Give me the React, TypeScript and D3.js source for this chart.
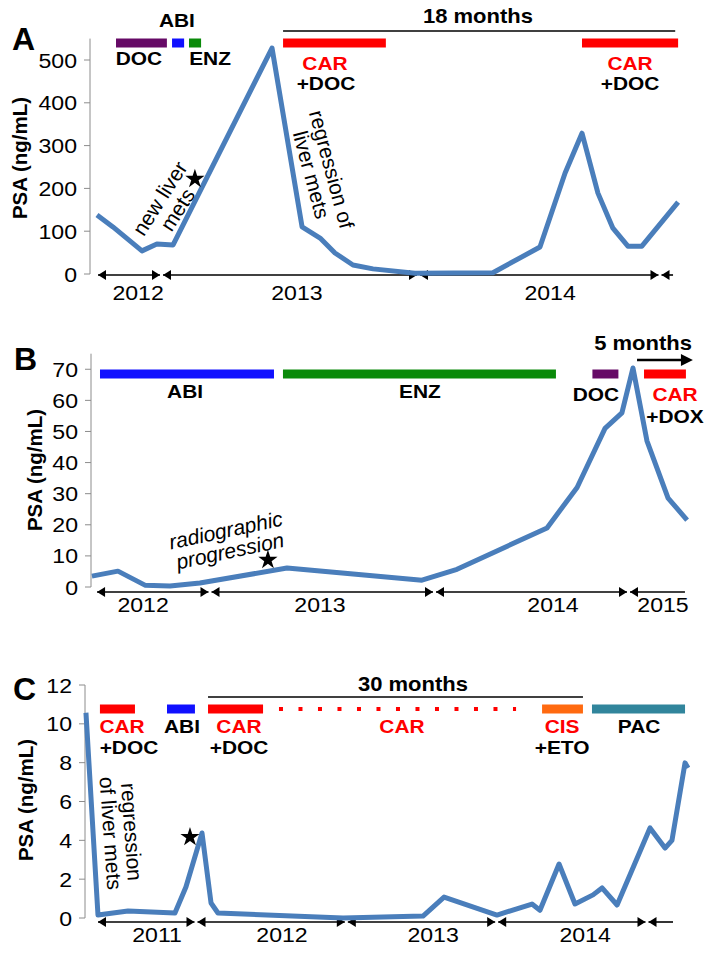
import React from "react";
import * as d3 from "d3";

// ---------------- Panel A data ----------------
const yearBreaksA = [2013, 2014, 2015];
const datesA = [2012.749, 2012.811, 2012.924, 2012.982, 2013.045, 2013.43, 2013.547, 2013.617, 2013.675, 2013.745, 2013.823, 2013.986, 2014.308, 2014.503, 2014.607, 2014.677, 2014.743, 2014.805, 2014.867, 2014.925, 2015.075];
const psaA = [138, 110, 54, 70, 68, 528, 110, 84, 49, 21, 12, 2, 3, 63, 236, 329, 189, 107, 65, 65, 168];
const yTicksA = [0, 100, 200, 300, 400, 500];
const yearBoundsA = [2012.753, 2013, 2014, 2015, 2015.054];
const yearLabelsA = ["2012", "2013", "2014"];
const yearLabelDatesA = [2012.909, 2013.527, 2014.545];
const txNamesA = ["DOC", "ABI", "ENZ", "CAR+DOC", "CAR+DOC"];
const txStartA = [2012.823, 2013.041, 2013.107, 2013.473, 2014.677];
const txEndA = [2013.021, 2013.088, 2013.154, 2013.873, 2015.075];
const txColorA = ["#660a66", "#1010ff", "#0a8a0a", "#ff0000", "#ff0000"];
const txDashedA = [false, false, false, false, false];
const lblTextA = ["ABI", "DOC", "ENZ", "CAR", "+DOC", "CAR", "+DOC"];
const lblDateA = [2013.06, 2012.912, 2013.189, 2013.636, 2013.64, 2014.876, 2014.876];
const lblRowA = [0, 1, 1, 2, 3, 2, 3];
const lblRedA = [false, false, false, true, false, true, false];
const spanTextA = "18 months";
const spanA = [2013.473, 2015.063];
const spanTextDateA = 2014.246;
const starA = [2013.13, 222];
const notesA = [
  { lines: ["new liver", "mets"], date: 2013.029, value: 163, angle: -57.5, italic: false },
  { lines: ["regression of", "liver mets"], date: 2013.621, value: 238, angle: 75, italic: false },
];

// ---------------- Panel B data ----------------
const yearBreaksB = [2013, 2014, 2015];
const datesB = [2012.474, 2012.59, 2012.71, 2012.822, 2012.955, 2013.343, 2013.944, 2014.116, 2014.58, 2014.735, 2014.879, 2014.966, 2015.023, 2015.095, 2015.204, 2015.302];
const psaB = [3.5, 5.1, 0.6, 0.3, 1.3, 6.1, 2.2, 5.7, 19, 32, 51, 56, 70.4, 47, 28.6, 21.5];
const yTicksB = [0, 10, 20, 30, 40, 50, 60, 70];
const yearBoundsB = [2012.497, 2013, 2014, 2015, 2015.291];
const yearLabelsB = ["2012", "2013", "2014", "2015"];
const yearLabelDatesB = [2012.702, 2013.49, 2014.611, 2015.178];
const txNamesB = ["ABI", "ENZ", "DOC", "CAR+DOX"];
const txStartB = [2012.51, 2013.325, 2014.814, 2015.08];
const txEndB = [2013.285, 2014.626, 2014.948, 2015.296];
const txColorB = ["#1010ff", "#0a8a0a", "#660a66", "#ff0000"];
const txDashedB = [false, false, false, false];
const lblTextB = ["ABI", "ENZ", "DOC", "CAR", "+DOX"];
const lblDateB = [2012.889, 2013.935, 2014.832, 2015.24, 2015.24];
const lblRowB = [0, 0, 1, 1, 2];
const lblRedB = [false, false, false, true, false];
const spanTextB = "5 months";
const spanB = [2015.044, 2015.332];
const spanTextDateB = 2015.075;
const starB = [2013.258, 8.7];
const notesB = [
  { lines: ["radiographic", "progression"], date: 2013.08, value: 14.8, angle: -12, italic: true },
];

// ---------------- Panel C data ----------------
const yearBreaksC = [2012, 2015];
const datesC = [2011.268, 2011.348, 2011.548, 2011.86, 2011.933, 2012.04, 2012.1, 2012.146, 2012.978, 2013.51, 2013.65, 2014.002, 2014.235, 2014.288, 2014.415, 2014.521, 2014.641, 2014.701, 2014.801, 2015.02, 2015.12, 2015.166, 2015.253, 2015.273];
const psaC = [10.57, 0.15, 0.36, 0.26, 1.6, 4.38, 0.77, 0.26, 0.0, 0.1, 1.08, 0.15, 0.72, 0.4, 2.78, 0.72, 1.19, 1.55, 0.67, 4.64, 3.6, 4.0, 7.99, 7.73];
const yTicksC = [0, 2, 4, 6, 8, 10, 12];
const yearBoundsC = [2011.348, 2012, 2013, 2014, 2015, 2015.173];
const yearLabelsC = ["2011", "2012", "2013", "2014"];
const yearLabelDatesC = [2011.741, 2012.572, 2013.577, 2014.588];
const txNamesC = ["CAR+DOC", "ABI", "CAR+DOC", "CAR", "CIS+ETO", "PAC"];
const txStartC = [2011.361, 2011.807, 2012.08, 2012.552, 2014.302, 2014.634];
const txEndC = [2011.594, 2011.993, 2012.446, 2014.129, 2014.574, 2015.253];
const txColorC = ["#ff0000", "#1010ff", "#ff0000", "#ff0000", "#ff6a10", "#31859c"];
const txDashedC = [false, false, false, true, false, false];
const lblTextC = ["CAR", "+DOC", "ABI", "CAR", "+DOC", "CAR", "CIS", "+ETO", "PAC"];
const lblDateC = [2011.508, 2011.554, 2011.907, 2012.286, 2012.286, 2013.37, 2014.435, 2014.435, 2014.947];
const lblRowC = [0, 1, 0, 0, 1, 0, 0, 1, 0];
const lblRedC = [true, false, false, true, false, true, true, false, false];
const spanTextC = "30 months";
const spanC = [2012.08, 2014.574];
const spanTextDateC = 2013.443;
const starC = [2011.96, 4.17];
const notesC = [
  { lines: ["regression", "of liver mets"], date: 2011.5, value: 4.4, angle: 86, italic: false },
];

const FONT = "'Liberation Sans', Arial, Helvetica, sans-serif";
const LINE_COLOR = "#4a7ebb";
const SX = 1.1;

type Note = { lines: string[]; date: number; value: number; angle: number; italic: boolean };

type PanelProps = {
  letter: string;
  letterPos: [number, number];
  yLabelPos: [number, number];
  xBreaks: number[];
  xRange: number[];
  yDomain: [number, number];
  yRange: [number, number];
  axisX: number;
  arrowY: number;
  yearY: number;
  barY: number;
  rows: number[];
  spanY: number;
  spanTextY: number;
  spanArrow: boolean;
  dates: number[];
  psa: number[];
  yTicks: number[];
  yearBounds: number[];
  yearLabels: string[];
  yearLabelDates: number[];
  txStart: number[];
  txEnd: number[];
  txColor: string[];
  txDashed: boolean[];
  lblText: string[];
  lblDate: number[];
  lblRow: number[];
  lblRed: boolean[];
  spanText: string;
  span: number[];
  spanTextDate: number;
  star: number[];
  notes: Note[];
};

function HText(props: { x: number; y: number; size: number; bold?: boolean; fill?: string; anchor?: string; children: React.ReactNode }) {
  const { x, y, size, bold, fill, anchor, children } = props;
  return (
    <text
      transform={`translate(${x},${y}) scale(${SX},1)`}
      fontSize={size}
      fontWeight={bold ? "bold" : "normal"}
      fill={fill || "#000"}
      textAnchor={anchor || "middle"}
      fontFamily={FONT}
    >
      {children}
    </text>
  );
}

function Panel(p: PanelProps) {
  const x = d3.scaleLinear().domain(p.xBreaks).range(p.xRange);
  const y = d3.scaleLinear().domain(p.yDomain).range(p.yRange);
  const line = d3
    .line<number>()
    .x((_, i) => x(p.dates[i]))
    .y((d) => y(d));
  const starPath = d3.symbol().type(d3.symbolStar).size(115)() || "";

  const segs: { a: number; b: number; right: boolean }[] = [];
  for (let i = 0; i < p.yearBounds.length - 1; i++) {
    const last = i === p.yearBounds.length - 2;
    const a = x(p.yearBounds[i]) + (i === 0 ? 0 : 1.5);
    const b = x(p.yearBounds[i + 1]) - (last ? 0 : 1.5);
    segs.push({ a, b, right: !last });
  }
  const ay = p.arrowY;
  const ah = 8;
  const hw = 5;

  const sx0 = x(p.span[0]);
  const sx1 = x(p.span[1]);

  return (
    <g>
      <text x={p.letterPos[0]} y={p.letterPos[1]} fontSize={32} fontWeight="bold" fontFamily={FONT}>
        {p.letter}
      </text>
      <text
        transform={`translate(${p.yLabelPos[0]},${p.yLabelPos[1]}) rotate(-90)`}
        fontSize={20.5}
        fontWeight="bold"
        textAnchor="middle"
        fontFamily={FONT}
      >
        PSA (ng/mL)
      </text>
      <line x1={p.axisX} x2={p.axisX} y1={p.yRange[1]} y2={p.yRange[0]} stroke="#8c8c8c" strokeWidth={1} />
      {p.yTicks.map((t) => (
        <g key={t}>
          <line x1={p.axisX - 6} x2={p.axisX} y1={y(t)} y2={y(t)} stroke="#8c8c8c" strokeWidth={1} />
          <HText x={p.axisX - 13} y={y(t) + 7.5} size={21} anchor="end">
            {String(t)}
          </HText>
        </g>
      ))}
      {segs.map((s, i) => (
        <g key={i}>
          <line x1={s.a} x2={s.b} y1={ay} y2={ay} stroke="#000" strokeWidth={1.6} />
          <polygon points={`${s.a},${ay} ${s.a + ah},${ay - hw} ${s.a + ah},${ay + hw}`} fill="#000" />
          {s.right && <polygon points={`${s.b},${ay} ${s.b - ah},${ay - hw} ${s.b - ah},${ay + hw}`} fill="#000" />}
        </g>
      ))}
      {p.yearLabels.map((l, i) => (
        <HText key={l} x={x(p.yearLabelDates[i])} y={p.yearY} size={21}>
          {l}
        </HText>
      ))}
      {p.txStart.map((s, i) => (
        <line
          key={i}
          x1={x(s)}
          x2={x(p.txEnd[i])}
          y1={p.barY}
          y2={p.barY}
          stroke={p.txColor[i]}
          strokeWidth={p.txDashed[i] ? 4 : 9}
          strokeDasharray={p.txDashed[i] ? "4 15.5" : undefined}
        />
      ))}
      {p.lblText.map((t, i) => (
        <HText key={i} x={x(p.lblDate[i])} y={p.rows[p.lblRow[i]]} size={19} bold fill={p.lblRed[i] ? "#ff0000" : "#000"}>
          {t}
        </HText>
      ))}
      <line x1={sx0} x2={p.spanArrow ? sx1 - 8 : sx1} y1={p.spanY} y2={p.spanY} stroke="#000" strokeWidth={p.spanArrow ? 2.5 : 1.6} />
      {p.spanArrow && (
        <polygon points={`${sx1},${p.spanY} ${sx1 - 12},${p.spanY - 6} ${sx1 - 12},${p.spanY + 6}`} fill="#000" />
      )}
      <HText x={x(p.spanTextDate)} y={p.spanTextY} size={20} bold>
        {p.spanText}
      </HText>
      <path d={line(p.psa) || ""} fill="none" stroke={LINE_COLOR} strokeWidth={5} strokeLinejoin="round" strokeLinecap="butt" />
      <path d={starPath} transform={`translate(${x(p.star[0])},${y(p.star[1])})`} fill="#000" />
      {p.notes.map((n, i) => (
        <text
          key={i}
          transform={`translate(${x(n.date)},${y(n.value)}) rotate(${n.angle})`}
          fontSize={21}
          fontStyle={n.italic ? "italic" : "normal"}
          textAnchor="middle"
          fontFamily={FONT}
        >
          {n.lines.map((l, j) => (
            <tspan key={j} x={0} y={-3.6 + j * 21}>
              {l}
            </tspan>
          ))}
        </text>
      ))}
    </g>
  );
}

export default function App() {
  return (
    <svg width={714} height={953} style={{ position: "absolute", left: 0, top: 0, background: "#fff" }}>
      <rect width={714} height={953} fill="#fff" />
      <Panel
        letter="A"
        letterPos={[12, 50]}
        yLabelPos={[27, 158]}
        xBreaks={yearBreaksA}
        xRange={[161.5, 418.5, 660]}
        yDomain={[0, 550]}
        yRange={[274, 38.6]}
        axisX={90}
        arrowY={275}
        yearY={300}
        barY={43}
        rows={[27, 65, 70, 90]}
        spanY={31}
        spanTextY={23}
        spanArrow={false}
        dates={datesA}
        psa={psaA}
        yTicks={yTicksA}
        yearBounds={yearBoundsA}
        yearLabels={yearLabelsA}
        yearLabelDates={yearLabelDatesA}
        txStart={txStartA}
        txEnd={txEndA}
        txColor={txColorA}
        txDashed={txDashedA}
        lblText={lblTextA}
        lblDate={lblDateA}
        lblRow={lblRowA}
        lblRed={lblRedA}
        spanText={spanTextA}
        span={spanA}
        spanTextDate={spanTextDateA}
        star={starA}
        notes={notesA}
      />
      <Panel
        letter="B"
        letterPos={[14, 370]}
        yLabelPos={[42, 470]}
        xBreaks={yearBreaksB}
        xRange={[210, 434.5, 628.5]}
        yDomain={[0, 75]}
        yRange={[587, 353.7]}
        axisX={91}
        arrowY={592}
        yearY={612}
        barY={374}
        rows={[397.5, 401, 423]}
        spanY={360}
        spanTextY={350}
        spanArrow={true}
        dates={datesB}
        psa={psaB}
        yTicks={yTicksB}
        yearBounds={yearBoundsB}
        yearLabels={yearLabelsB}
        yearLabelDates={yearLabelDatesB}
        txStart={txStartB}
        txEnd={txEndB}
        txColor={txColorB}
        txDashed={txDashedB}
        lblText={lblTextB}
        lblDate={lblDateB}
        lblRow={lblRowB}
        lblRed={lblRedB}
        spanText={spanTextB}
        span={spanB}
        spanTextDate={spanTextDateB}
        star={starB}
        notes={notesB}
      />
      <Panel
        letter="C"
        letterPos={[13, 700]}
        yLabelPos={[33, 800]}
        xBreaks={yearBreaksC}
        xRange={[196, 647]}
        yDomain={[0, 12]}
        yRange={[918, 685]}
        axisX={85}
        arrowY={922}
        yearY={942}
        barY={709}
        rows={[733, 754]}
        spanY={697}
        spanTextY={691}
        spanArrow={false}
        dates={datesC}
        psa={psaC}
        yTicks={yTicksC}
        yearBounds={yearBoundsC}
        yearLabels={yearLabelsC}
        yearLabelDates={yearLabelDatesC}
        txStart={txStartC}
        txEnd={txEndC}
        txColor={txColorC}
        txDashed={txDashedC}
        lblText={lblTextC}
        lblDate={lblDateC}
        lblRow={lblRowC}
        lblRed={lblRedC}
        spanText={spanTextC}
        span={spanC}
        spanTextDate={spanTextDateC}
        star={starC}
        notes={notesC}
      />
    </svg>
  );
}
